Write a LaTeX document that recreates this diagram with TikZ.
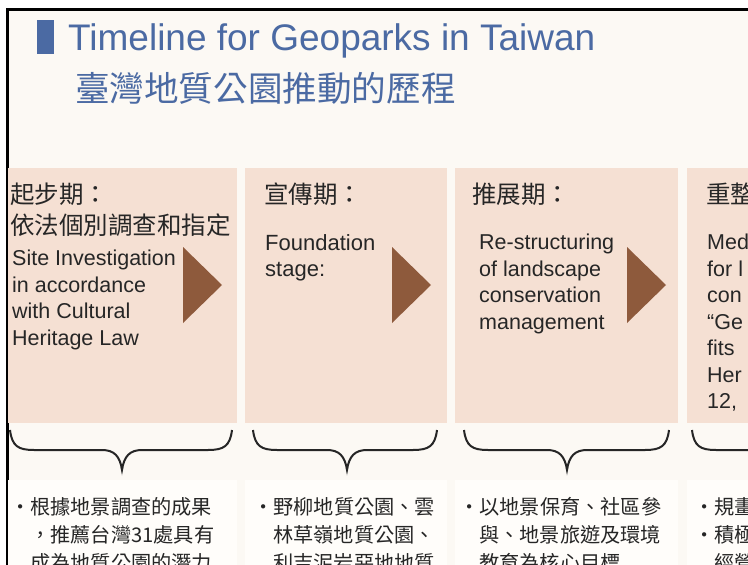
\documentclass[tikz,border=0pt]{standalone}
\usepackage{fontspec}
\setmainfont{Liberation Sans}
\newfontfamily\cjk{Noto Sans CJK TC}
\usepackage{xcolor}
\usetikzlibrary{calc}

\definecolor{peach}{HTML}{F5E0D3}
\definecolor{cream}{HTML}{FCF9F4}
\definecolor{paper}{HTML}{FFFDFA}
\definecolor{brownarrow}{HTML}{8E5A3C}
\definecolor{titleblue}{HTML}{4B6AA3}
\definecolor{ink}{HTML}{262626}

\begin{document}
\begin{tikzpicture}
    [x=1pt, y=-1pt,
     panel/.style={rectangle, fill=peach, inner sep=0pt, anchor=north west, minimum height=255pt},
     stage/.style={anchor=west, inner sep=0pt, text=ink, font=\cjk\fontsize{24.5}{28}\selectfont},
     entry/.style={anchor=north west, inner sep=0pt, align=left, text=ink, font=\fontsize{21.5}{26.5}\selectfont},
     point/.style={anchor=west, inner sep=0pt, text=ink, font=\cjk\fontsize{20.2}{24}\selectfont},
     pointer/.style={fill=brownarrow},
     brace/.style={draw=ink, line width=2pt}]
    \useasboundingbox (0,0) rectangle (748,565);
    \clip (0,0) rectangle (748,565);
    \fill[cream] (7,9) rectangle (748,565);
    \draw[black, line width=3pt] (7,565) -- (7,9) -- (748,9);

    % heading
    \fill[titleblue] (37,20) rectangle (54,54);
    \node (title) [anchor=base west, inner sep=0pt, text=titleblue, font=\fontsize{37}{40}\selectfont] at (68,50) {Timeline for Geoparks in Taiwan};
    \node (subtitle) [anchor=west, inner sep=0pt, text=titleblue, font=\cjk\fontsize{34.6}{40}\selectfont] at (75,88) {臺灣地質公園推動的歷程};

    % stage panels and arrows
    \foreach \n/\x/\w in {p1/8/229,p2/245/202,p3/455/223,p4/687/80}{
        \node (\n) [panel, minimum width=\w pt] at (\x,168) {};
    }
    \foreach \x in {183,392,627}{
        \fill[pointer] (\x,247) -- (\x+39,285) -- (\x,323) -- cycle;
    }

    \node (s1) [stage] at (10,194) {起步期：};
    \node (s1b) [stage] at (10,225) {依法個別調查和指定};
    \node (s2) [stage] at (264,194) {宣傳期：};
    \node (s3) [stage] at (472,194) {推展期：};
    \node (s4) [stage] at (706,194) {重整};

    \node (e1) [entry] at (12,250) {Site Investigation\\in accordance\\with Cultural\\Heritage Law};
    \node (e2) [entry, font=\fontsize{22}{26.5}\selectfont] at (265,234) {Foundation\\stage:};
    \node (e3) [entry] at (479,234) {Re-structuring\\of landscape\\conservation\\management};
    \node (e4) [entry] at (707,234) {Med\\for l\\con\\“Ge\\fits\\Her\\12,};

    % braces
    \foreach \a/\m/\b in {10/122/232,253/347/437,464/567/669,692/795/900}{
        \draw[brace] (\a,430) .. controls (\a+2,446) and (\a+8,450) .. (\a+24,450) -- (\m-20,450)
            .. controls (\m-8,450) and (\m-2,456) .. (\m,470)
            .. controls (\m+2,456) and (\m+8,450) .. (\m+20,450) -- (\b-24,450)
            .. controls (\b-8,450) and (\b-2,446) .. (\b,430);
    }

    % notes
    \foreach \x/\w in {8/229,245/202,455/223,687/80}{
        \fill[paper] (\x,480) rectangle (\x+\w,565);
    }
    \node (n1) [point] at (10,507) {・根據地景調查的成果};
    \node (n1b) [point] at (30,535) {，推薦台灣31處具有};
    \node (n1c) [point] at (30,563) {成為地質公園的潛力};
    \node (n2) [point] at (253,507) {・野柳地質公園、雲};
    \node (n2b) [point] at (273,535) {林草嶺地質公園、};
    \node (n2c) [point] at (273,563) {利吉泥岩惡地地質};
    \node (n3) [point] at (459,507) {・以地景保育、社區參};
    \node (n3b) [point] at (479,535) {與、地景旅遊及環境};
    \node (n3c) [point] at (479,563) {教育為核心目標};
    \node (n4) [point] at (694,507) {・規畫};
    \node (n4b) [point] at (694,535) {・積極};
    \node (n4c) [point] at (714,563) {經營};
\end{tikzpicture}
\end{document}
